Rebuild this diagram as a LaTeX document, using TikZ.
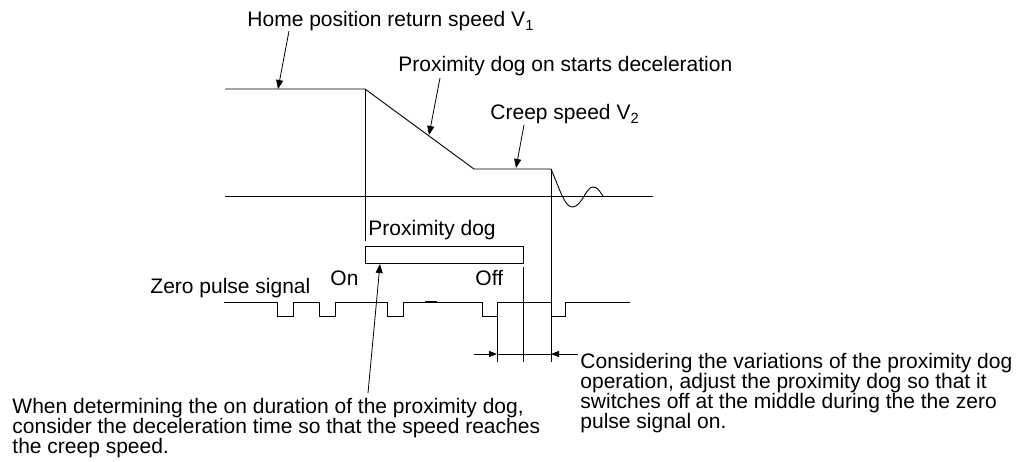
\documentclass[tikz,border=0pt]{standalone}
\usepackage{fontspec}
\setmainfont{Liberation Sans}
\usetikzlibrary{arrows.meta}
\begin{document}
\begin{tikzpicture}[x=1pt,y=-1pt,line width=0.9pt,
  lbl/.style={inner sep=0pt,anchor=base west,font=\fontsize{21}{20}\selectfont},
  para/.style={inner sep=0pt,anchor=north west,align=left,font=\fontsize{21}{20}\selectfont},
  lead/.style={-{Triangle[length=9pt,width=7pt]},line width=0.8pt},
  dimarrow/.style={-{Triangle[length=8pt,width=6pt]},line width=0.8pt},
  thin/.style={line width=0.8pt}]
\useasboundingbox (0,0) rectangle (1032,462);

% texts
\node[lbl] (thome) at (247,27) {Home position return speed V\textsubscript{1}};
\node[lbl] (tdec) at (398,72) {Proximity dog on starts deceleration};
\node[lbl] (tcreep) at (490,120) {Creep speed V\textsubscript{2}};
\node[lbl] (tdog) at (368,236) {Proximity dog};
\node[lbl] (ton) at (330,285) {On};
\node[lbl] (toff) at (475,285) {Off};
\node[lbl] (tzero) at (150,293) {Zero pulse signal};
\node[para] (tleft) at (12,398) {When determining the on duration of the proximity dog,\\consider the deceleration time so that the speed reaches\\the creep speed.};
\node[para] (tright) at (580,353) {Considering the variations of the proximity dog\\operation, adjust the proximity dog so that it\\switches off at the middle during the the zero\\pulse signal on.};

% speed profile
\coordinate (s0) at (225,89);
\coordinate (s1) at (365,89);
\coordinate (s2) at (474,169);
\coordinate (s3) at (551,169);
\draw (s0) -- (s1) -- (s2) -- (s3)
  .. controls (560,190) and (565,208) .. (573,207)
  .. controls (582,206) and (586,187) .. (593,187)
  .. controls (598,187) and (600,192) .. (603,196);
\draw[thin] (225,196) -- (653,196);

% proximity dog box
\node[draw,thin,inner sep=0pt,minimum width=158pt,minimum height=17pt,anchor=north west] (dog) at (365,246) {};

% vertical reference lines
\draw[thin] (s1) -- (365,241);
\draw[thin] (s3) -- (551,362);
\draw[thin] (523,267) -- (523,362);
\draw[thin] (497,316) -- (497,362);

% zero pulse signal
\draw[thin] (224,302) -- (277,302) -- (277,316) -- (293,316) -- (293,302)
  -- (319,302) -- (319,316) -- (335,316) -- (335,302)
  -- (387,302) -- (387,316) -- (403,316) -- (403,302)
  -- (482,302) -- (482,316) -- (497,316) -- (497,302)
  -- (551,302) -- (551,316) -- (565,316) -- (565,302) -- (630,302);
\draw[line width=2pt] (425,301.5) -- (437,301.5);

% dimension
\coordinate (d0) at (474,354);
\coordinate (d1) at (497,354);
\coordinate (d2) at (551,354);
\coordinate (d3) at (578,354);
\draw[thin] (d1) -- (d2);
\draw[dimarrow] (d0) -- (d1);
\draw[dimarrow] (d3) -- (d2);

% leaders
\coordinate (h0) at (289,31);
\coordinate (h1) at (278,89);
\draw[lead] (h0) -- (h1);
\coordinate (p0) at (440,78);
\coordinate (p1) at (429,135);
\draw[lead] (p0) -- (p1);
\coordinate (c0) at (524,125);
\coordinate (c1) at (516,168);
\draw[lead] (c0) -- (c1);
\coordinate (b0) at (368,393);
\coordinate (b1) at (380,264);
\draw[lead] (b0) -- (b1);
\end{tikzpicture}
\end{document}
